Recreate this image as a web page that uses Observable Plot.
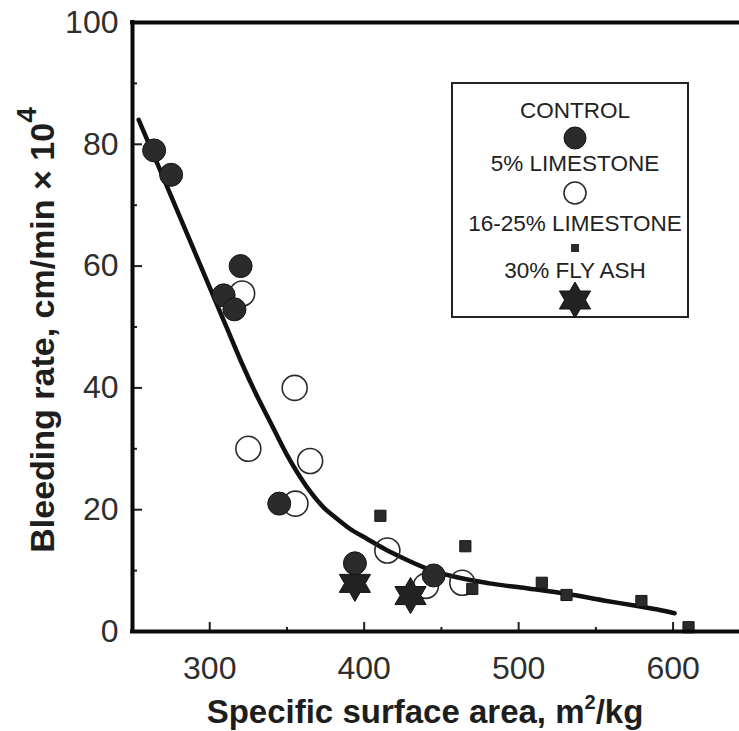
<!DOCTYPE html>
<html><head><meta charset="utf-8">
<script src="https://cdn.jsdelivr.net/npm/d3@7"></script>
<script src="https://cdn.jsdelivr.net/npm/@observablehq/plot@0.6"></script>
<style>
body{margin:0;background:#fff;}
#chart{position:relative;width:739px;height:731px;}
</style></head><body><div id="chart"></div>
<script>
// ---- data ----
const controlX = [264, 275, 320, 309, 316, 345, 394, 445];
const controlY = [79, 75, 60, 55.2, 52.9, 21, 11.2, 9.2];
const lime5X = [321, 355, 325, 365, 355.5, 415, 440, 463.5];
const lime5Y = [55.5, 40, 30, 28, 21, 13.3, 7.5, 8];
const lime16X = [410.5, 465.5, 470, 515, 531, 579.5, 610];
const lime16Y = [19, 14, 7, 8, 6, 5, 0.7];
const flyAshX = [394, 430];
const flyAshY = [7.9, 5.9];
const fitX = [254, 265, 280, 295, 310, 320, 330, 340, 350, 356, 365, 374, 381, 390, 402, 413, 424, 441, 460, 481, 505, 531, 555, 574, 590, 601];
const fitY = [84, 77.5, 68.5, 59.5, 50.5, 44.5, 39, 34, 29, 26.4, 23, 20.3, 18.8, 17, 15.2, 13.6, 12.2, 10.3, 8.9, 7.9, 7.1, 6.2, 5.1, 4.3, 3.6, 3.0];
const xMajor = [300, 400, 500, 600];
const xMinor = [350, 450, 550];
const yMajor = [0, 20, 40, 60, 80, 100];
const yMinor = [10, 30, 50, 70, 90];
const legendLabels = ["CONTROL", "5% LIMESTONE", "16-25% LIMESTONE", "30% FLY ASH"];

const zip = (xs, ys) => xs.map((x, i) => ({x, y: ys[i]}));
const control = zip(controlX, controlY);
const lime5 = zip(lime5X, lime5Y);
const lime16 = zip(lime16X, lime16Y);
const flyAsh = zip(flyAshX, flyAshY);
const fit = zip(fitX, fitY);

// ---- layout ----
const W = 739, H = 731, mL = 132, mR = 0, mT = 22, mB = 100;
const plotW = W - mL - mR, plotH = H - mT - mB;
const ink = "#1e1e1e";

const hexagram = {
  draw(ctx, size) {
    const R = Math.sqrt(size / Math.PI), r = R / Math.sqrt(3);
    for (let i = 0; i < 12; i++) {
      const a = i * Math.PI / 6 - Math.PI / 2;
      const rr = i % 2 === 0 ? R : r;
      const px = rr * Math.cos(a), py = rr * Math.sin(a);
      i === 0 ? ctx.moveTo(px, py) : ctx.lineTo(px, py);
    }
    ctx.closePath();
  }
};

const chart = Plot.plot({
  width: W, height: H,
  marginLeft: mL, marginRight: mR, marginTop: mT, marginBottom: mB,
  x: {domain: [250, 643]},
  y: {domain: [0, 100]},
  style: {fontFamily: "'Liberation Sans', Arial, sans-serif", background: "white", color: ink},
  marks: [
    Plot.axisX(xMajor, {tickSize: 0, tickPadding: 25, fontSize: 32, label: null, fill: "#2e2e2e"}),
    Plot.axisY(yMajor, {tickSize: 0, tickPadding: 14, fontSize: 32, label: null, fill: "#2e2e2e"}),
    Plot.tickX(xMajor, {x: d => d, insetTop: plotH - 9, stroke: ink, strokeWidth: 2}),
    Plot.tickX(xMinor, {x: d => d, insetTop: plotH - 4, stroke: ink, strokeWidth: 2}),
    Plot.tickY(yMajor, {y: d => d, insetRight: plotW - 10, stroke: ink, strokeWidth: 2}),
    Plot.tickY(yMinor, {y: d => d, insetRight: plotW - 5, stroke: ink, strokeWidth: 2}),
    Plot.line(fit, {x: "x", y: "y", curve: "monotone-x", stroke: "#111", strokeWidth: 4.5}),
    Plot.dot(lime5, {x: "x", y: "y", r: 12.5, stroke: "#2a2a2a", strokeWidth: 1.6, fill: "none"}),
    Plot.dot(flyAsh, {x: "x", y: "y", r: 18, symbol: hexagram, fill: "#222", stroke: "#111", strokeWidth: 1}),
    Plot.dot(control, {x: "x", y: "y", r: 11.5, fill: "#2b2b2b", stroke: "#151515", strokeWidth: 1}),
    Plot.dot(lime16, {x: "x", y: "y", symbol: "square", r: 6.3, fill: "#2b2b2b", stroke: "#151515", strokeWidth: 1}),
    Plot.ruleY([0, 100], {stroke: "#0a0a0a", strokeWidth: 4, strokeLinecap: "square"}),
    Plot.ruleX([250], {stroke: "#0a0a0a", strokeWidth: 4, strokeLinecap: "square"})
  ]
});
document.getElementById("chart").appendChild(chart);

// ---- axis titles ----
const svg = d3.select(chart);
const font = "'Liberation Sans', Arial, sans-serif";
const xt = svg.append("text")
  .attr("x", 425).attr("y", 723).attr("text-anchor", "middle")
  .attr("font-family", font).attr("font-weight", "bold").attr("font-size", 33).attr("fill", ink);
xt.append("tspan").text("Specific surface area, m");
xt.append("tspan").attr("font-size", 20).attr("dy", -14).text("2");
xt.append("tspan").attr("dy", 14).text("/kg");

const yt = svg.append("text")
  .attr("transform", "translate(54,330) rotate(-90)").attr("text-anchor", "middle")
  .attr("font-family", font).attr("font-weight", "bold").attr("font-size", 34).attr("fill", ink);
yt.append("tspan").text("Bleeding rate, cm/min \u00d7 10");
yt.append("tspan").attr("font-size", 28).attr("dy", -18).text("4");

// ---- legend ----
const lg = svg.append("g");
lg.append("rect").attr("x", 452).attr("y", 83).attr("width", 236).attr("height", 234)
  .attr("fill", "white").attr("stroke", "#222").attr("stroke-width", 2);
const cx = 575;
const textYs = [110, 163, 223, 270];
legendLabels.forEach((t, i) => {
  lg.append("text").attr("x", cx).attr("y", textYs[i]).attr("dy", "0.36em")
    .attr("text-anchor", "middle").attr("font-family", font).attr("font-size", 22.5)
    .attr("fill", "#222").text(t);
});
lg.append("circle").attr("cx", cx).attr("cy", 138).attr("r", 11).attr("fill", "#2b2b2b").attr("stroke", "#151515");
lg.append("circle").attr("cx", cx).attr("cy", 193).attr("r", 11).attr("fill", "none").attr("stroke", "#2a2a2a").attr("stroke-width", 1.6);
lg.append("rect").attr("x", cx - 4).attr("y", 244).attr("width", 8).attr("height", 8).attr("fill", "#2b2b2b");
const p = d3.path();
hexagram.draw(p, 18 * 18 * Math.PI);
lg.append("path").attr("d", p.toString()).attr("transform", `translate(${cx},300)`).attr("fill", "#222").attr("stroke", "#111");
</script></body></html>
